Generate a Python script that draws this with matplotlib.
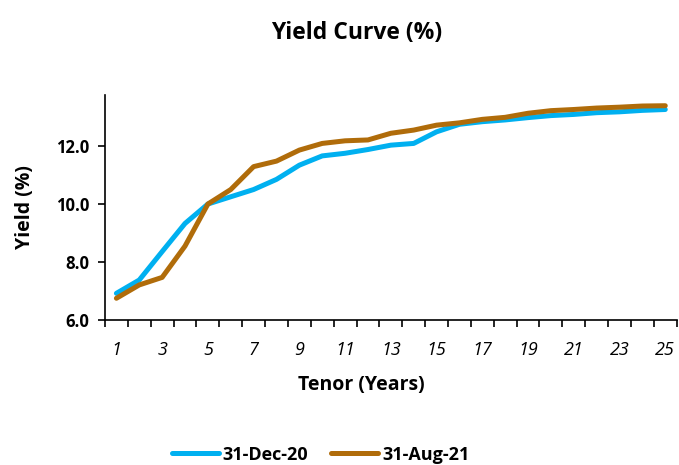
import numpy as np
import matplotlib
matplotlib.use("Agg")
import matplotlib.pyplot as plt
from matplotlib.ticker import FixedLocator, FormatStrFormatter

plt.rcParams["font.family"] = ["Open Sans", "DejaVu Sans"]

tenor = list(range(1, 26))
dec20 = [6.92, 7.38, 8.36, 9.33, 10.0, 10.25, 10.5, 10.85, 11.34, 11.66, 11.75, 11.88, 12.03,
         12.09, 12.49, 12.75, 12.84, 12.90, 12.98, 13.05, 13.09, 13.15, 13.18, 13.23, 13.26]
aug21 = [6.75, 7.21, 7.47, 8.55, 10.0, 10.5, 11.29, 11.48, 11.86, 12.09, 12.18, 12.21, 12.44,
         12.55, 12.72, 12.80, 12.92, 12.99, 13.13, 13.22, 13.26, 13.31, 13.34, 13.38, 13.39]
series_labels = ["31-Dec-20", "31-Aug-21"]
colors = ["#00B0F0", "#B06C0A"]

fig = plt.figure(figsize=(6.79, 4.65), dpi=100)
ax = fig.add_axes([0.1546, 0.3118, 0.842, 0.4839])

for vals, lab, c in zip([dec20, aug21], series_labels, colors):
    ax.plot(tenor, vals, color=c, lw=3.6, label=lab, solid_capstyle="round", solid_joinstyle="round")

ax.set_xlim(0.5, 25.5)
ax.set_ylim(6.0, 13.76)
ax.set_yticks([6, 8, 10, 12])
ax.yaxis.set_major_formatter(FormatStrFormatter("%.1f"))
ax.set_xticks(tenor[::2])
ax.xaxis.set_minor_locator(FixedLocator(np.arange(0.5, 26, 1)))
ax.tick_params(axis="x", which="major", length=0, pad=15, labelsize=13)
ax.tick_params(axis="x", which="minor", length=5, width=1.2, direction="out")
ax.tick_params(axis="y", length=5, width=1.2, labelsize=12, pad=6)
for t in ax.get_xticklabels():
    t.set_fontstyle("italic")
for t in ax.get_yticklabels():
    t.set_fontweight("bold")

for s in ["top", "right"]:
    ax.spines[s].set_visible(False)
for s in ["left", "bottom"]:
    ax.spines[s].set_linewidth(1.2)

ax.set_xlabel("Tenor (Years)", fontsize=14, fontweight="bold", va="center")
ax.xaxis.set_label_coords(0.449, -0.289)
ax.set_ylabel("Yield (%)", fontsize=14, fontweight="bold", va="center")
ax.yaxis.set_label_coords(-0.14, 0.5)
fig.text(0.525, 0.93, "Yield Curve (%)", ha="center", va="center", fontsize=16.5, fontweight="bold")

leg = fig.legend(loc="center", bbox_to_anchor=(0.472, 0.022), ncol=2, frameon=False,
                 handlelength=2.6, columnspacing=1.3, handletextpad=0.2,
                 prop={"weight": "bold", "size": 13})

fig.savefig("out.png", dpi=100)
